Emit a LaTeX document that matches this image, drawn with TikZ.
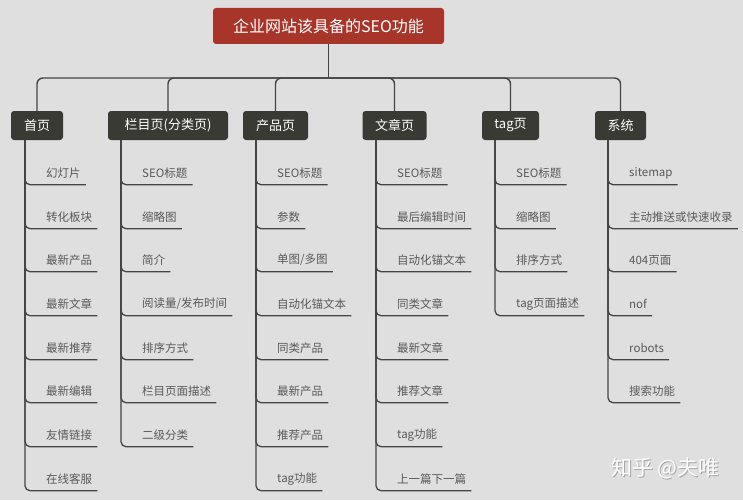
\documentclass[tikz,border=0pt]{standalone}
\usepackage{fontspec}
\setmainfont{Noto Sans CJK SC}
\usepackage{tikz}

\definecolor{bggray}{HTML}{DFDFDF}
\definecolor{rootred}{HTML}{A8352A}
\definecolor{catdark}{HTML}{3A3A35}
\definecolor{linegray}{HTML}{454545}
\definecolor{leafgray}{HTML}{595959}

\begin{document}
\begin{tikzpicture}[x=1pt, y=-1pt,
		root_style/.style={rectangle,rounded corners=3pt,fill=rootred,text=white,minimum width=231pt,minimum height=36pt,font=\fontsize{16}{18}\selectfont},
		cat_style/.style={rectangle,rounded corners=3pt,fill=catdark,text=white,minimum height=29pt,inner xsep=0pt,font=\fontsize{13}{15}\selectfont},
		leaf_style/.style={anchor=west,inner xsep=5pt,inner ysep=0pt,minimum height=23pt,text=leafgray,font=\fontsize{11.5}{13}\selectfont},
		bus_style/.style={draw=linegray,line width=1.4pt,rounded corners=6pt},
		edge_style/.style={draw=linegray,line width=1.3pt,rounded corners=5pt}]

		\fill[bggray] (0,0) rectangle (743,500);
		\useasboundingbox (0,0) rectangle (743,500);

		\node[root_style] (root) at (328.5,26) {企业网站该具备的SEO功能};
		\coordinate (bus) at (328.5,78);

		\node[cat_style,minimum width=52pt] (home) at (37,125.5) {首页};
		\node[cat_style,minimum width=120pt] (column) at (168,125.5) {栏目页(分类页)};
		\node[cat_style,minimum width=65pt] (product) at (275.5,125.5) {产品页};
		\node[cat_style,minimum width=64pt] (article) at (394.5,125.5) {文章页};
		\node[cat_style,minimum width=57pt] (tag) at (510.5,125.5) {tag页};
		\node[cat_style,minimum width=51pt] (system) at (620.5,125.5) {系统};

		\draw[bus_style] (root.south) -- (bus);
		\draw[bus_style] (bus) -| (home.north);
		\draw[bus_style] (bus) -| (column.north);
		\draw[bus_style] (bus) -| (product.north);
		\draw[bus_style] (bus) -| (article.north);
		\draw[bus_style] (bus) -| (tag.north);
		\draw[bus_style] (bus) -| (system.north);

		% spine tops
		\coordinate (hs) at (25,140);
		\coordinate (ls) at (121,140);
		\coordinate (ps) at (256,140);
		\coordinate (ws) at (376,140);
		\coordinate (ts) at (495,140);
		\coordinate (ss) at (608,140);

		% home page
		\node[leaf_style] (h1) at (41,173) {幻灯片};
		\node[leaf_style] (h2) at (41,217) {转化板块};
		\node[leaf_style] (h3) at (41,260) {最新产品};
		\node[leaf_style] (h4) at (41,304) {最新文章};
		\node[leaf_style] (h5) at (41,348) {最新推荐};
		\node[leaf_style] (h6) at (41,391) {最新编辑};
		\node[leaf_style] (h7) at (41,435) {友情链接};
		\node[leaf_style] (h8) at (41,479) {在线客服};

		% column page
		\node[leaf_style] (l1) at (137,173) {SEO标题};
		\node[leaf_style] (l2) at (137,217) {缩略图};
		\node[leaf_style] (l3) at (137,260) {简介};
		\node[leaf_style] (l4) at (137,304) {阅读量/发布时间};
		\node[leaf_style] (l5) at (137,348) {排序方式};
		\node[leaf_style] (l6) at (137,391) {栏目页面描述};
		\node[leaf_style] (l7) at (137,435) {二级分类};

		% product page
		\node[leaf_style] (p1) at (272,173) {SEO标题};
		\node[leaf_style] (p2) at (272,217) {参数};
		\node[leaf_style] (p3) at (272,260) {单图/多图};
		\node[leaf_style] (p4) at (272,304) {自动化锚文本};
		\node[leaf_style] (p5) at (272,348) {同类产品};
		\node[leaf_style] (p6) at (272,391) {最新产品};
		\node[leaf_style] (p7) at (272,435) {推荐产品};
		\node[leaf_style] (p8) at (272,479) {tag功能};

		% article page
		\node[leaf_style] (w1) at (392,173) {SEO标题};
		\node[leaf_style] (w2) at (392,217) {最后编辑时间};
		\node[leaf_style] (w3) at (392,260) {自动化锚文本};
		\node[leaf_style] (w4) at (392,304) {同类文章};
		\node[leaf_style] (w5) at (392,348) {最新文章};
		\node[leaf_style] (w6) at (392,391) {推荐文章};
		\node[leaf_style] (w7) at (392,435) {tag功能};
		\node[leaf_style] (w8) at (392,479) {上一篇下一篇};

		% tag page
		\node[leaf_style] (t1) at (511,173) {SEO标题};
		\node[leaf_style] (t2) at (511,217) {缩略图};
		\node[leaf_style] (t3) at (511,260) {排序方式};
		\node[leaf_style] (t4) at (511,304) {tag页面描述};

		% system
		\node[leaf_style] (s1) at (624,173) {sitemap};
		\node[leaf_style] (s2) at (624,217) {主动推送或快速收录};
		\node[leaf_style] (s3) at (624,260) {404页面};
		\node[leaf_style] (s4) at (624,304) {nof};
		\node[leaf_style] (s5) at (624,348) {robots};
		\node[leaf_style] (s6) at (624,391) {搜索功能};

		\draw[edge_style] (hs) |- (h1.south east);
		\draw[edge_style] (hs) |- (h2.south east);
		\draw[edge_style] (hs) |- (h3.south east);
		\draw[edge_style] (hs) |- (h4.south east);
		\draw[edge_style] (hs) |- (h5.south east);
		\draw[edge_style] (hs) |- (h6.south east);
		\draw[edge_style] (hs) |- (h7.south east);
		\draw[edge_style] (hs) |- (h8.south east);

		\draw[edge_style] (ls) |- (l1.south east);
		\draw[edge_style] (ls) |- (l2.south east);
		\draw[edge_style] (ls) |- (l3.south east);
		\draw[edge_style] (ls) |- (l4.south east);
		\draw[edge_style] (ls) |- (l5.south east);
		\draw[edge_style] (ls) |- (l6.south east);
		\draw[edge_style] (ls) |- (l7.south east);

		\draw[edge_style] (ps) |- (p1.south east);
		\draw[edge_style] (ps) |- (p2.south east);
		\draw[edge_style] (ps) |- (p3.south east);
		\draw[edge_style] (ps) |- (p4.south east);
		\draw[edge_style] (ps) |- (p5.south east);
		\draw[edge_style] (ps) |- (p6.south east);
		\draw[edge_style] (ps) |- (p7.south east);
		\draw[edge_style] (ps) |- (p8.south east);

		\draw[edge_style] (ws) |- (w1.south east);
		\draw[edge_style] (ws) |- (w2.south east);
		\draw[edge_style] (ws) |- (w3.south east);
		\draw[edge_style] (ws) |- (w4.south east);
		\draw[edge_style] (ws) |- (w5.south east);
		\draw[edge_style] (ws) |- (w6.south east);
		\draw[edge_style] (ws) |- (w7.south east);
		\draw[edge_style] (ws) |- (w8.south east);

		\draw[edge_style] (ts) |- (t1.south east);
		\draw[edge_style] (ts) |- (t2.south east);
		\draw[edge_style] (ts) |- (t3.south east);
		\draw[edge_style] (ts) |- (t4.south east);

		\draw[edge_style] (ss) |- (s1.south east);
		\draw[edge_style] (ss) |- (s2.south east);
		\draw[edge_style] (ss) |- (s3.south east);
		\draw[edge_style] (ss) |- (s4.south east);
		\draw[edge_style] (ss) |- (s5.south east);
		\draw[edge_style] (ss) |- (s6.south east);

		% watermark
		\node[text=gray!70,font=\fontsize{21}{23}\selectfont] (markshadow) at (666.5,469.5) {知乎 @夫唯};
		\node[text=white,font=\fontsize{21}{23}\selectfont] (mark) at (665.5,468.5) {知乎 @夫唯};

\end{tikzpicture}
\end{document}
